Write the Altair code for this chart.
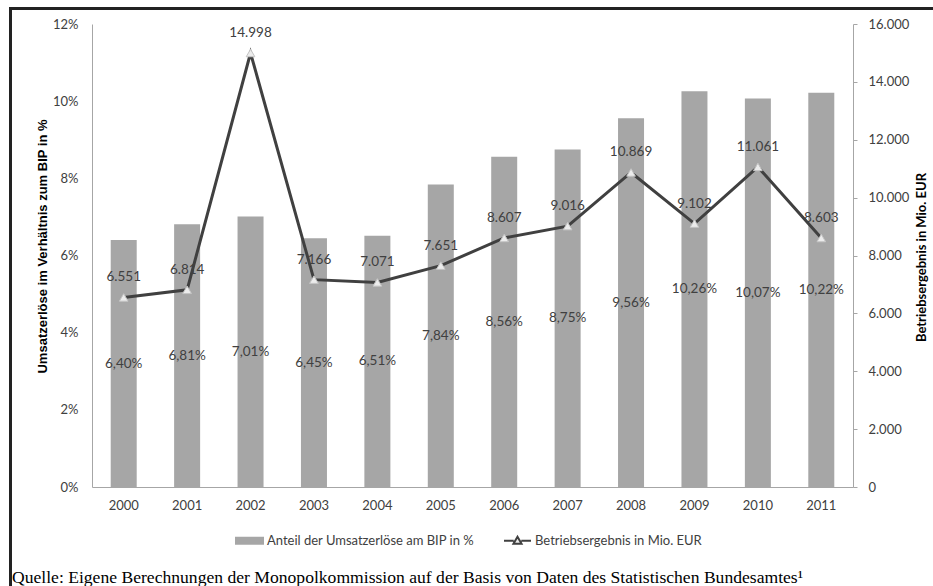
import altair as alt
import pandas as pd

years = ["2000", "2001", "2002", "2003", "2004", "2005", "2006", "2007", "2008", "2009", "2010", "2011"]
anteil = [6.40, 6.81, 7.01, 6.45, 6.51, 7.84, 8.56, 8.75, 9.56, 10.26, 10.07, 10.22]
betrieb = [6551, 6814, 14998, 7166, 7071, 7651, 8607, 9016, 10869, 9102, 11061, 8603]

bar_name = "Anteil der Umsatzerlöse am BIP in %"
line_name = "Betriebsergebnis in Mio. EUR"
left_title = "Umsatzerlöse im Verhältnis zum BIP in %"
right_title = "Betriebsergebnis in Mio. EUR"
source = "Quelle: Eigene Berechnungen der Monopolkommission auf der Basis von Daten des Statistischen Bundesamtes¹"

left_ticks = [0, 2, 4, 6, 8, 10, 12]
right_ticks = [0, 2000, 4000, 6000, 8000, 10000, 12000, 14000, 16000]

df = pd.DataFrame({"Jahr": years, "Anteil": anteil, "Betrieb": betrieb})

FONT = "Lato"
TXT = "#404040"
AXC = "#a6a6a6"

base = alt.Chart(df).transform_calculate(
    half="datum.Anteil / 2",
    anteil_lbl="replace(format(datum.Anteil, '.2f'), '.', ',') + '%'",
    betrieb_lbl="replace(format(datum.Betrieb, ','), ',', '.')",
)

x = alt.X(
    "Jahr:O",
    scale=alt.Scale(paddingInner=0.59, paddingOuter=0.295),
    axis=alt.Axis(title=None, labelAngle=0, ticks=False, labelPadding=12,
                  domainColor=AXC, labelFont=FONT, labelFontSize=13, labelColor=TXT),
)

yl_scale = alt.Scale(domain=[0, 12])
yl_axis = alt.Axis(
    title=left_title, values=left_ticks, labelExpr="datum.value + '%'", ticks=False,
    labelPadding=14, domainColor=AXC, grid=False, labelFont=FONT, labelFontSize=13,
    labelColor=TXT, titleX=-50, titleY=222, titleAngle=270, titleBaseline="middle",
    titleAlign="center", titleFont="Liberation Sans Narrow, Liberation Sans",
    titleFontSize=13, titleFontWeight="bold", titleColor="#000000", orient="left",
)
yr_scale = alt.Scale(domain=[0, 16000])
yr_axis = alt.Axis(
    title=right_title, values=right_ticks,
    labelExpr="replace(format(datum.value, ','), ',', '.')", ticks=True, tickSize=4,
    tickColor=AXC, labelPadding=11, domainColor=AXC, grid=False, labelFont=FONT,
    labelFontSize=13, labelColor=TXT, titleX=68, titleY=233, titleAngle=270,
    titleBaseline="middle", titleAlign="center", titleFont=FONT, titleFontSize=13,
    titleFontWeight="bold", titleColor="#000000", orient="right",
)

# legend colour: bars grey, line entry uses the light triangle-marker fill
color_scale = alt.Scale(domain=[bar_name, line_name], range=["#a6a6a6", "#ececec"])
legend = alt.Legend(
    title=None, orient="none", legendX=143, legendY=502, direction="horizontal",
    symbolSize=729, labelFont=FONT, labelFontSize=13, labelColor=TXT, labelOffset=3,
    labelLimit=0, columnPadding=25, symbolStrokeWidth=2, symbolOpacity=1,
    symbolType=alt.ExprRef(expr="datum.index === 0 ? 'M-1,-0.22H1V0.22H-1Z' : 'M-1,0H-0.28M0.28,0H1M0,-0.3L0.3,0.22L-0.3,0.22Z'"),
    symbolStrokeColor=alt.ExprRef(expr="datum.index === 0 ? '#a6a6a6' : '#404040'"),
)

bars = base.transform_calculate(serie=f"'{bar_name}'").mark_bar().encode(
    x=x,
    y=alt.Y("Anteil:Q", scale=yl_scale, axis=yl_axis),
    color=alt.Color("serie:N", scale=color_scale, legend=legend),
)
bar_text = base.mark_text(font=FONT, fontSize=13.5, color=TXT, baseline="middle").encode(
    x=x,
    y=alt.Y("half:Q", scale=yl_scale, axis=yl_axis),
    text="anteil_lbl:N",
)
left = alt.layer(bars, bar_text)

line = base.mark_line(strokeWidth=3, color="#404040").encode(
    x=x,
    y=alt.Y("Betrieb:Q", scale=yr_scale, axis=yr_axis),
)
pts = base.transform_calculate(serie=f"'{line_name}'").mark_point(
    shape="triangle-up", filled=True, stroke="#c4c4c4", strokeWidth=1, size=75, opacity=1
).encode(
    x=x,
    y=alt.Y("Betrieb:Q", scale=yr_scale, axis=yr_axis),
    color=alt.Color("serie:N", scale=color_scale, legend=legend),
)
line_text = base.mark_text(font=FONT, fontSize=13.5, color=TXT, baseline="middle", dy=-20).encode(
    x=x,
    y=alt.Y("Betrieb:Q", scale=yr_scale, axis=yr_axis),
    text="betrieb_lbl:N",
)
right = alt.layer(line, pts, line_text)

deco = alt.Chart(pd.DataFrame({"t": [source]}))
frame_top = deco.mark_rule(color="#222222", strokeWidth=3).encode(
    x=alt.value(-83), x2=alt.value(845), y=alt.value(-15.5)
)
frame_left = deco.mark_rule(color="#222222", strokeWidth=3).encode(
    x=alt.value(-81.5), y=alt.value(-17), y2=alt.value(565)
)
src = deco.mark_text(font="Liberation Serif", fontSize=17.6, color="#000000", align="left",
                     baseline="alphabetic").encode(
    x=alt.value(-80), y=alt.value(559), text="t:N"
)

chart = alt.layer(left, right, frame_top, frame_left, src).resolve_scale(
    y="independent"
).properties(
    width=761, height=463,
    autosize=alt.AutoSizeParams(type="none"),
    padding={"left": 92, "top": 24, "right": 80, "bottom": 99},
).configure_view(stroke=None)

chart.save("out.html", embed_options={"renderer": "svg", "actions": False})
